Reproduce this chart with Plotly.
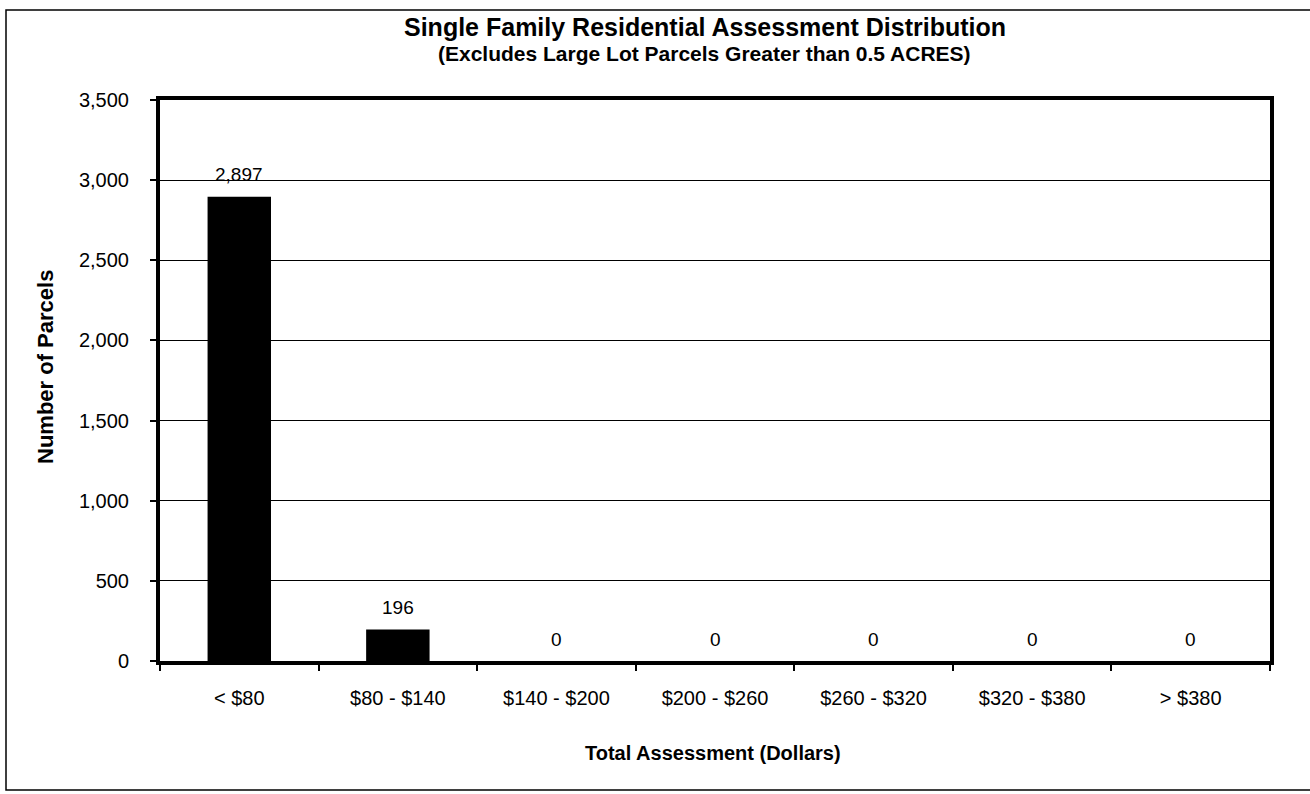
import plotly.graph_objects as go

categories = ["< $80", "$80 - $140", "$140 - $200", "$200 - $260", "$260 - $320", "$320 - $380", "> $380"]
parcels = [2897, 196, 0, 0, 0, 0, 0]
y_ticks = [0, 500, 1000, 1500, 2000, 2500, 3000, 3500]

W, H = 1310, 794
L, R, T, B = 160, 40, 100, 133
pw, ph = W - L - R, H - T - B
FONT = "Liberation Sans, Arial, sans-serif"

fig = go.Figure()
fig.add_trace(go.Bar(
    x=categories, y=parcels,
    marker=dict(color="black", line=dict(width=0)),
    width=0.4,
    hoverinfo="x+y",
))

for c, v in zip(categories, parcels):
    fig.add_annotation(x=c, y=v, text=f"{v:,}", showarrow=False,
                       yshift=22, font=dict(family=FONT, size=19, color="black"))

fig.update_layout(
    width=W, height=H,
    margin=dict(l=L, r=R, t=T, b=B),
    paper_bgcolor="white", plot_bgcolor="white",
    showlegend=False,
    font=dict(family=FONT, color="black"),
)
fig.update_xaxes(
    type="category",
    showline=True, linewidth=4, linecolor="black", mirror=True,
    ticks="outside", tickson="boundaries", ticklen=6, tickcolor="black", tickwidth=1.5,
    tickfont=dict(size=20), ticklabelstandoff=16, showgrid=False,
)
fig.update_yaxes(
    range=[0, 3500], tickvals=y_ticks, tickformat=",",
    showline=True, linewidth=4, linecolor="black", mirror=True,
    ticks="outside", ticklen=6, tickcolor="black", tickwidth=1.5,
    tickfont=dict(size=20), ticklabelstandoff=17,
    showgrid=True, gridcolor="black", gridwidth=1, zeroline=False,
)

def px(x):
    return (x - L) / pw

def py(y):
    return 1 - (y - T) / ph

fig.add_shape(type="rect", xref="paper", yref="paper",
              x0=px(6), x1=px(1316), y0=py(790), y1=py(10),
              line=dict(color="black", width=1.5), layer="below")

def label(x, y, text, size, angle=0):
    fig.add_annotation(xref="paper", yref="paper", x=px(x), y=py(y), showarrow=False,
                       xanchor="center", yanchor="middle", textangle=angle,
                       text=text, font=dict(size=size))

label(705, 27, "<b>Single Family Residential Assessment Distribution</b>", 25)
label(704, 54, "<b>(Excludes Large Lot Parcels Greater than 0.5 ACRES)</b>", 21)
label(45, 367, "<b>Number of Parcels</b>", 22, -90)
label(713, 753, "<b>Total Assessment (Dollars)</b>", 20)

fig.write_html("out.html", config={"displayModeBar": False},
               post_script="document.body.style.margin='0';")
